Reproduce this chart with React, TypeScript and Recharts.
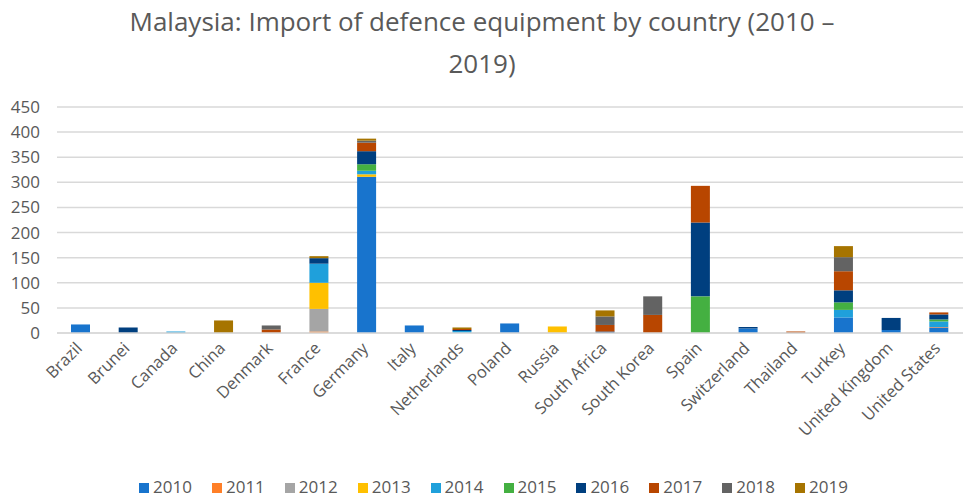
import React from "react";
import {
  BarChart,
  Bar,
  XAxis,
  YAxis,
  CartesianGrid,
  Legend,
} from "recharts";

const countries = [
  "Brazil", "Brunei", "Canada", "China", "Denmark", "France", "Germany", "Italy",
  "Netherlands", "Poland", "Russia", "South Africa", "South Korea", "Spain",
  "Switzerland", "Thailand", "Turkey", "United Kingdom", "United States",
];

const years = ["2010", "2011", "2012", "2013", "2014", "2015", "2016", "2017", "2018", "2019"];

// values per year, one entry per country (same order as countries)
const y2010 = [17, 0, 0, 0, 0, 0, 311, 15, 0, 19, 0, 0, 0, 0, 9, 0, 31, 6, 11];
const y2011 = [0, 0, 0, 0, 0, 3, 0, 0, 0, 0, 0, 0, 0, 0, 0, 0, 0, 0, 1];
const y2012 = [0, 0, 0, 0, 0, 45, 0, 0, 0, 0, 0, 0, 0, 0, 0, 0, 0, 0, 0];
const y2013 = [0, 0, 0, 0, 0, 52, 5, 0, 0, 0, 13, 0, 0, 0, 0, 0, 0, 0, 0];
const y2014 = [0, 0, 3, 0, 0, 38, 7, 0, 4, 0, 0, 0, 0, 0, 0, 0, 15, 0, 11];
const y2015 = [0, 0, 0, 0, 0, 0, 13, 0, 0, 0, 0, 0, 0, 73, 0, 0, 15, 0, 4];
const y2016 = [0, 11, 0, 0, 0, 11, 26, 0, 2, 0, 0, 3, 0, 147, 3, 0, 24, 24, 10];
const y2017 = [0, 0, 0, 0, 7, 0, 17, 0, 2, 0, 0, 13, 36, 73, 0, 3, 38, 0, 4];
const y2018 = [0, 0, 0, 0, 8, 0, 4, 0, 0, 0, 0, 17, 37, 0, 0, 0, 28, 0, 0];
const y2019 = [0, 0, 0, 25, 0, 4, 4, 0, 3, 0, 0, 12, 0, 0, 0, 0, 22, 0, 0];

const yTicks = [0, 50, 100, 150, 200, 250, 300, 350, 400, 450];

const colors = [
  "#1874cd", "#ff7f27", "#a5a5a5", "#ffc000", "#1fa0db",
  "#44b041", "#003f7f", "#b84600", "#636363", "#a67400",
];

const series = [y2010, y2011, y2012, y2013, y2014, y2015, y2016, y2017, y2018, y2019];

const data = countries.map((c, i) => {
  const row: Record<string, string | number> = { country: c };
  years.forEach((y, j) => {
    row[y] = series[j][i];
  });
  return row;
});

const FONT = "'Open Sans', sans-serif";
const TEXT = "#595959";

export default function App() {
  return (
    <div style={{ position: "absolute", left: 0, top: 0, width: 964, height: 498, background: "#fff", fontFamily: FONT }}>
      <div
        style={{
          position: "absolute",
          top: 0,
          left: 0,
          width: 964,
          textAlign: "center",
          fontSize: 26,
          lineHeight: "42px",
          color: TEXT,
        }}
      >
        Malaysia: Import of defence equipment by country (2010 –<br />2019)
      </div>
      <BarChart
        width={964}
        height={498}
        data={data}
        margin={{ top: 107, right: 1, left: 0, bottom: 0 }}
        barSize={19}
      >
        <CartesianGrid vertical={false} stroke="#d9d9d9" strokeWidth={1.5} />
        <XAxis
          dataKey="country"
          interval={0}
          height={135}
          angle={-45}
          textAnchor="end"
          tickLine={false}
          axisLine={{ stroke: "#d9d9d9", strokeWidth: 1.5 }}
          tick={{ fill: TEXT, fontSize: 16.5, fontFamily: FONT, dx: -6 }}
        />
        <YAxis
          width={57}
          domain={[0, 450]}
          ticks={yTicks}
          interval={0}
          tickLine={false}
          axisLine={false}
          tickMargin={11}
          tick={{ fill: TEXT, fontSize: 17, fontFamily: FONT }}
        />
        <Legend
          verticalAlign="bottom"
          iconType="square"
          iconSize={10}
          wrapperStyle={{ height: 30, left: 22, bottom: -7, fontFamily: FONT, fontSize: 17 }}
          formatter={(v) => <span style={{ color: TEXT, marginRight: 10 }}>{v}</span>}
        />
        {years.map((y, i) => (
          <Bar
            key={y}
            dataKey={y}
            stackId="a"
            fill={colors[i]}
            isAnimationActive={false}
          />
        ))}
      </BarChart>
    </div>
  );
}
